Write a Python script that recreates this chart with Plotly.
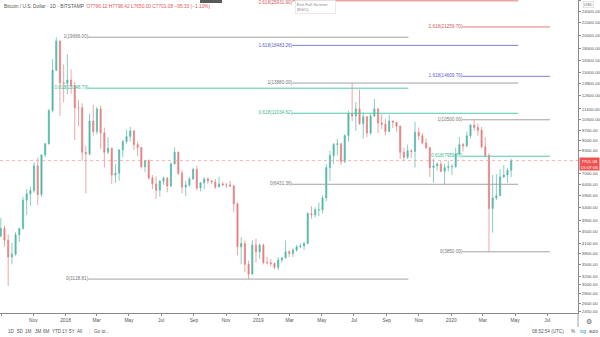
import numpy as np
import pandas as pd
import plotly.graph_objects as go

# Weekly BTC/USD candles (Bitstamp), weeks starting on Mondays
week_start = pd.date_range("2017-08-28", periods=139, freq="7D")

opens = [4340, 4600, 4200, 3700, 3780, 4380, 4600, 5700, 5980, 6130,
         7400, 5950, 8050, 8750, 11250, 15300, 19100, 13900,
         13850, 14200, 13600, 11500, 11500, 8200, 8100, 10400, 9600, 11400,
         9500, 8200, 8450, 6900, 7000, 8350, 8900, 9250, 9650, 8700,
         8500, 7350, 7700, 6750, 6450, 6150, 6580, 6740, 6350, 7500,
         8200, 7000, 6300, 6400, 6700, 7200, 6250, 6500, 6700, 6600,
         6550, 6300, 6450, 6400, 6400, 6350, 5550, 4000, 4100, 3500,
         3250, 4050, 3850,
         4050, 3550, 3540, 3520, 3420, 3620, 3680, 3850, 3800, 3900,
         4000, 4020, 4100, 5150, 5100, 5300, 5300, 5800, 7300, 8000,
         8700, 8750, 7650, 9300, 11000, 10800, 11400, 10200, 10750, 9500,
         10800, 11400, 10250, 10150, 9600, 10400, 10300, 10000, 8200, 7900,
         8300, 8250, 9550, 9300, 8800, 8500, 7300, 7400, 7500, 7100,
         7300, 7350,
         7350, 8100, 8700, 8600, 9300, 10100, 9900, 9700, 8550, 8000,
         5350, 5800, 5900, 6800, 6900, 7150]
highs = [4980, 4700, 4400, 4120, 4470, 4620, 5850, 6200, 6320, 7600,
         7880, 8050, 8800, 11400, 16650, 19666, 19200, 16000,
         17250, 15400, 14000, 12200, 11900, 8600, 11000, 11750, 11600, 11700,
         9900, 9200, 8500, 7500, 8400, 9000, 9750, 9950, 9700, 8900,
         8550, 7750, 7770, 6900, 6830, 6650, 6800, 6800, 7600, 8500,
         8250, 7150, 6600, 6800, 7300, 7400, 6550, 6800, 6800, 6650,
         6700, 6800, 6550, 6500, 6600, 6400, 5600, 4300, 4200, 3600,
         4200, 4250, 4100,
         4100, 3700, 3650, 3550, 3700, 3680, 4200, 3900, 3950, 4050,
         4100, 4150, 5200, 5450, 5400, 5600, 5900, 7500, 8300, 8800,
         9100, 8800, 9400, 11250, 13880, 12000, 13200, 11100, 10800, 11000,
         12300, 11500, 10950, 10600, 10900, 10450, 10350, 10050, 8500, 8700,
         8400, 10350, 9900, 9500, 9100, 8500, 7800, 7600, 7650, 7500,
         7700, 7500,
         8500, 9200, 8800, 9600, 10100, 10500, 10200, 9950, 9200, 8150,
         6900, 6950, 7200, 7450, 7300, 7800]
lows = [4300, 4000, 2970, 3500, 3740, 4150, 4560, 5100, 5460, 6030,
        5500, 5850, 7900, 8700, 11100, 15200, 10800, 12000,
        12750, 12800, 9000, 10000, 7700, 6000, 8000, 9300, 9400, 8400,
        7300, 8100, 6450, 6500, 6600, 7900, 8750, 8900, 8350, 7950,
        7250, 7050, 6650, 6200, 5750, 5850, 6400, 6050, 6300, 7500,
        6900, 6000, 5880, 6300, 6650, 6150, 6100, 6200, 6450, 6450,
        6200, 6300, 6350, 6250, 6300, 5200, 3750, 3500, 3300, 3128.81,
        3230, 3550, 3650,
        3500, 3500, 3450, 3370, 3350, 3550, 3650, 3700, 3700, 3850,
        3950, 3900, 4100, 4950, 5000, 5050, 5150, 5650, 6600, 7500,
        8000, 7450, 7550, 8900, 10400, 9650, 10100, 9100, 9200, 9350,
        10700, 9500, 9800, 9350, 9600, 9850, 9600, 7800, 7700, 7800,
        7850, 7300, 9000, 8700, 8400, 6800, 6500, 7150, 7050, 6431.36,
        7100, 6900,
        7300, 8050, 8250, 8550, 9100, 9650, 9300, 8450, 7900, 3850,
        4450, 5700, 5900, 6750, 6500, 6800]
closes = [4600, 4200, 3700, 3780, 4380, 4600, 5700, 5980, 6130, 7400,
          5950, 8050, 8750, 11250, 15300, 19100, 13900, 13850,
          14200, 13600, 11500, 11500, 8200, 8100, 10400, 9600, 11400, 9500,
          8200, 8450, 6900, 7000, 8350, 8900, 9250, 9650, 8700, 8500,
          7350, 7700, 6750, 6450, 6150, 6580, 6740, 6350, 7500, 8200,
          7000, 6300, 6400, 6700, 7200, 6250, 6500, 6700, 6600, 6550,
          6300, 6450, 6400, 6400, 6350, 5550, 4000, 4100, 3500, 3250,
          4050, 3850, 4050,
          3550, 3540, 3520, 3420, 3620, 3680, 3850, 3800, 3900, 4000,
          4020, 4100, 5150, 5100, 5300, 5300, 5800, 7300, 8000, 8700,
          8750, 7650, 9300, 11000, 10800, 11400, 10200, 10750, 9500, 10800,
          11400, 10250, 10150, 9600, 10400, 10300, 10000, 8200, 7900, 8300,
          8250, 9550, 9300, 8800, 8500, 7300, 7400, 7500, 7100, 7300,
          7350, 7350,
          8100, 8700, 8600, 9300, 10100, 9900, 9700, 8550, 8000, 5350,
          5800, 5900, 6800, 6900, 7150, 7701.08]

last_price = 7701.08

# Fibonacci retracement / extension drawings
fib_drawings = [
    dict(high=19666.00, low=3128.81, levels=[1, 0.618, 0],
         start="2018-02-13", end="2019-10-12"),
    dict(high=13880.00, low=6431.36, levels=[2.618, 1.618, 1, 0.618, 0],
         start="2019-03-06", end="2020-05-07"),
    dict(high=10500.00, low=3850.00, levels=[2.618, 1.618, 1, 0.618, 0],
         start="2020-01-22", end="2020-07-06"),
]
level_colors = {0: "#a3a3a3", 1: "#a3a3a3", 0.618: "#52c9a8",
                1.618: "#7f7ddc", 2.618: "#e07a7a"}
label_colors = {0: "#777777", 1: "#777777", 0.618: "#3bb994",
                1.618: "#5f5dc8", 2.618: "#d25c5c"}

y_ticks = [26000, 24000, 22000, 20000, 18000, 16500, 15000, 13800, 12600,
           11400, 10500, 9700, 9000, 8300, 7000, 6400, 5900, 5400, 4900,
           4500, 4100, 3800, 3500, 3200, 3000, 2800, 2600, 2450]
x_ticks = ["2017-09-01", "2017-11-01", "2018-01-01", "2018-03-01", "2018-05-01",
           "2018-07-01", "2018-09-01", "2018-11-01", "2019-01-01", "2019-03-01",
           "2019-05-01", "2019-07-01", "2019-09-01", "2019-11-01", "2020-01-01",
           "2020-03-01", "2020-05-01", "2020-07-01"]
x_tick_text = ["Sep", "Nov", "2018", "Mar", "May", "Jul", "Sep", "Nov", "2019",
               "Mar", "May", "Jul", "Sep", "Nov", "2020", "Mar", "May", "Jul"]

x_range = ["2017-08-30", "2020-08-28"]
y_range = [np.log10(2418), np.log10(26094)]

FONT = "Liberation Sans, Arial, sans-serif"
UP = "#53b8a9"
DOWN = "#e57f80"

fig = go.Figure()

# candles centred in their week
x_mid = week_start + pd.Timedelta(hours=84)
fig.add_trace(go.Candlestick(
    x=x_mid, open=opens, high=highs, low=lows, close=closes,
    increasing=dict(line=dict(color=UP, width=0.7), fillcolor=UP),
    decreasing=dict(line=dict(color=DOWN, width=0.7), fillcolor=DOWN),
    whiskerwidth=0, hoverinfo="skip", showlegend=False,
))

# last price line
fig.add_trace(go.Scatter(
    x=x_range, y=[last_price, last_price], mode="lines",
    line=dict(color="#f2a3a3", width=0.8, dash="dot"),
    hoverinfo="skip", showlegend=False,
))

for d in fib_drawings:
    span = d["high"] - d["low"]
    for lvl in d["levels"]:
        val = d["low"] + lvl * span
        fig.add_trace(go.Scatter(
            x=[d["start"], d["end"]], y=[val, val], mode="lines",
            line=dict(color=level_colors[lvl], width=1),
            hoverinfo="skip", showlegend=False,
        ))
        # a label sitting on the very top edge is nudged below its line
        pos = "bottom left" if val > 25000 else "middle left"
        fig.add_trace(go.Scatter(
            x=[d["start"]], y=[val], mode="text",
            text=[f"{lvl:g}({val:.2f})"], textposition=pos,
            textfont=dict(size=4.6, color=label_colors[lvl], family=FONT),
            cliponaxis=False, hoverinfo="skip", showlegend=False,
        ))

H = 313.0  # plot-area height in px
W = 578.0  # plot-area width in px


def py(px):
    return 1 - px / H


def pxx(px):
    return px / W


annotations = [
    dict(xref="paper", yref="paper", x=pxx(2), y=py(6), xanchor="left", yanchor="middle",
         showarrow=False, font=dict(size=4.8, color="#555555", family=FONT),
         text="Bitcoin / U.S. Dollar · 1D · BITSTAMP  "
              "<span style='color:#e05a5a'>O7796.12 H7798.42 L7650.00 C7701.08 "
              "−95.33 (−1.10%)</span>"),
    dict(xref="paper", yref="paper", x=pxx(295), y=py(0.5), xanchor="left", yanchor="top",
         showarrow=False, align="left", width=38, bgcolor="white",
         bordercolor="#dddddd", borderwidth=0.6, borderpad=1,
         font=dict(size=4.4, color="#8a8a8a", family=FONT),
         text="Exit Full Screen<br>(ESC)"),
    dict(xref="paper", yref="y", x=1, y=np.log10(last_price), xanchor="left",
         yanchor="middle", xshift=1, yshift=-3, showarrow=False,
         bgcolor="#ef5350", borderpad=0.8,
         font=dict(size=4.4, color="white", family=FONT),
         text="7701.08<br>15:07:06"),
    dict(xref="paper", yref="paper", x=1, y=py(5), xanchor="left", yanchor="middle",
         xshift=5, showarrow=False, bordercolor="#cccccc", borderwidth=0.5,
         borderpad=0.5, bgcolor="white",
         font=dict(size=4, color="#666666", family=FONT), text="USD"),
    dict(xref="paper", yref="paper", x=pxx(589), y=py(322), xanchor="center",
         yanchor="middle", showarrow=False,
         font=dict(size=7, color="#666666", family="DejaVu Sans"), text="⚙"),
]

toolbar = [("1D", 6), ("5D", 15), ("1M", 23), ("3M", 33), ("6M", 41),
           ("YTD", 50), ("1Y", 60), ("5Y", 67), ("All", 75), ("|", 87),
           ("Go to...", 92)]
for txt, xp in toolbar:
    annotations.append(dict(
        xref="paper", yref="paper", x=pxx(xp), y=py(331), xanchor="left",
        yanchor="middle", showarrow=False,
        font=dict(size=4.6, color="#c8c8c8" if txt == "|" else "#555555", family=FONT),
        text=txt))

right_bar = [("08:52:54 (UTC)", 530, "#555555"), ("%", 569, "#555555"),
             ("log", 578, "#2196f3"), ("auto", 587, "#555555")]
for txt, xp, col in right_bar:
    annotations.append(dict(
        xref="paper", yref="paper", x=pxx(xp), y=py(331), xanchor="left",
        yanchor="middle", showarrow=False,
        font=dict(size=4.6, color=col, family=FONT), text=txt))

shapes = [
    # full-screen button at the top edge
    dict(type="rect", xref="paper", yref="paper", x0=pxx(200), x1=pxx(222),
         y0=py(3), y1=1, fillcolor="#5a5a5a", line=dict(width=0)),
    # axis separator running through the time scale
    dict(type="line", xref="paper", yref="paper", x0=1, x1=1, y0=0, y1=py(327),
         line=dict(color="#8a8a8a", width=0.8)),
]

fig.update_layout(
    width=600, height=337,
    margin=dict(l=0, r=22, t=0, b=24),
    paper_bgcolor="white", plot_bgcolor="white",
    font=dict(family=FONT, size=5, color="#555555"),
    showlegend=False,
    boxgap=0.55,
    annotations=annotations,
    shapes=shapes,
    xaxis=dict(
        type="date", range=x_range, rangeslider=dict(visible=False),
        tickvals=x_ticks, ticktext=x_tick_text, tickangle=0,
        showgrid=False, zeroline=False,
        showline=True, linecolor="#8a8a8a", linewidth=0.8,
        ticks="outside", ticklen=2, tickcolor="#8a8a8a",
        tickfont=dict(size=4.8, color="#555555", family=FONT),
    ),
    yaxis=dict(
        type="log", range=y_range, side="right",
        tickvals=y_ticks, ticktext=[f"{v:.2f}" for v in y_ticks],
        showgrid=False, zeroline=False,
        showline=True, linecolor="#8a8a8a", linewidth=0.8,
        ticks="outside", ticklen=2, tickcolor="#8a8a8a",
        tickfont=dict(size=4.4, color="#555555", family=FONT),
    ),
)

fig.write_html("out.html")
